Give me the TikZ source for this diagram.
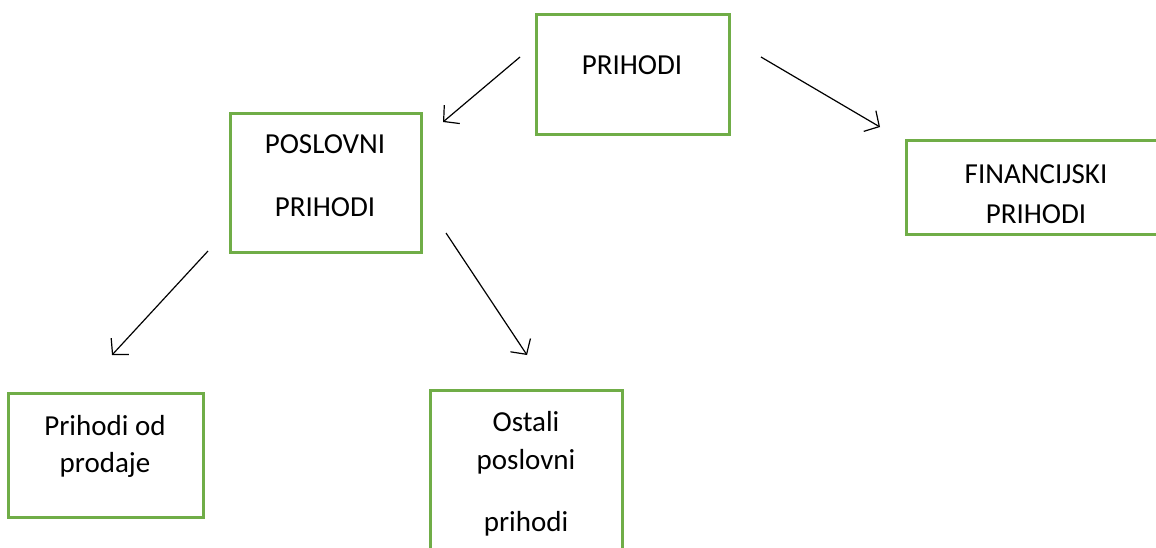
\documentclass[tikz,border=0pt]{standalone}
\usepackage{fontspec}
\setmainfont{Carlito}
\usetikzlibrary{arrows.meta}
\definecolor{boxgreen}{HTML}{70AD47}
\tikzset{
  gbox/.style={draw=boxgreen, line width=3pt, inner sep=0pt},
  txt/.style={anchor=base, inner sep=0pt, font=\fontsize{29}{34}\selectfont},
  arr/.style={line width=1.2pt, -{Straight Barb[length=11pt, width=24pt, line width=1.2pt]}}
}
\begin{document}
\begin{tikzpicture}[x=1pt, y=-1pt]
\useasboundingbox (0,0) rectangle (1156,547);
% boxes
\node[gbox, minimum width=193pt, minimum height=120pt] (top) at (632.5,74) {};
\node[gbox, minimum width=191pt, minimum height=139pt] (posl) at (325.5,182.5) {};
\node[gbox, minimum width=260pt, minimum height=94pt] (fin) at (1036,187) {};
\node[gbox, minimum width=195pt, minimum height=124pt] (prod) at (105.5,455) {};
\node[gbox, minimum width=192pt, minimum height=170pt] (ost) at (526,475) {};
% texts
\node[txt] (ttop) at (632,74) {PRIHODI};
\node[txt] (tposa) at (325,153) {POSLOVNI};
\node[txt] (tposb) at (325,216) {PRIHODI};
\node[txt] (tfina) at (1036,183) {FINANCIJSKI};
\node[txt] (tfinb) at (1036,223) {PRIHODI};
\node[txt] (tproa) at (105,435) {Prihodi od};
\node[txt] (tprob) at (105,472) {prodaje};
\node[txt] (tosta) at (526,431) {Ostali};
\node[txt] (tostb) at (526,469) {poslovni};
\node[txt] (tostc) at (526,531) {prihodi};
% arrow end points
\coordinate (a1s) at (520,57);
\coordinate (a1e) at (443,122);
\coordinate (a2s) at (761,57);
\coordinate (a2e) at (880,127);
\coordinate (a3s) at (208,251);
\coordinate (a3e) at (112,355);
\coordinate (a4s) at (446,233);
\coordinate (a4e) at (527,355);
\draw[arr] (a1s) -- (a1e);
\draw[arr] (a2s) -- (a2e);
\draw[arr] (a3s) -- (a3e);
\draw[arr] (a4s) -- (a4e);
\end{tikzpicture}
\end{document}
